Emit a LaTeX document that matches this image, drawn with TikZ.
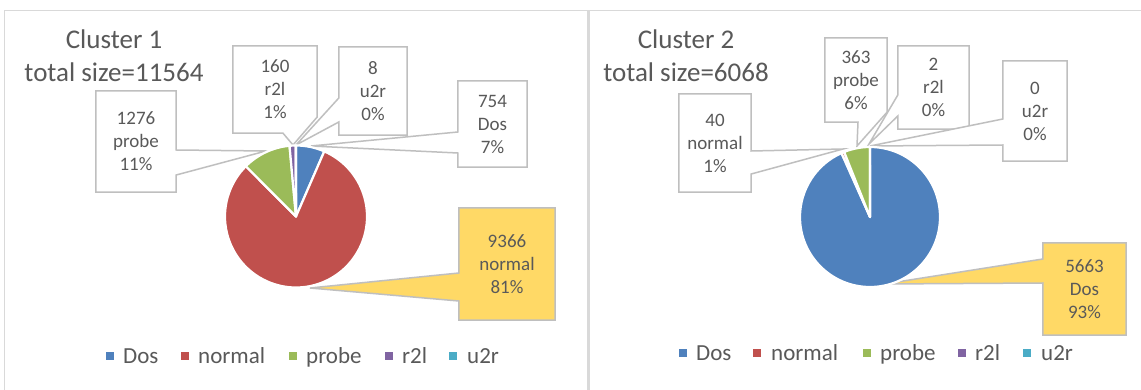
\documentclass[tikz,border=0pt]{standalone}
\usepackage{fontspec}
\setmainfont{Carlito}
\usetikzlibrary{calc,backgrounds}
\definecolor{cdos}{HTML}{4F81BD}
\definecolor{cnor}{HTML}{C0504D}
\definecolor{cpro}{HTML}{9BBB59}
\definecolor{cr2l}{HTML}{8064A2}
\definecolor{cu2r}{HTML}{4BACC6}
\definecolor{txt}{HTML}{595959}
\definecolor{bord}{HTML}{BFBFBF}
\definecolor{frm}{HTML}{D9D9D9}
\definecolor{gold}{HTML}{FFD966}
\tikzset{
  slice/.style={draw=white, line width=2.2pt, line join=round},
  lbl/.style={font=\fontsize{19}{23}\selectfont, text=txt, align=center, inner sep=0pt},
  box/.style={draw=bord, line width=1.5pt, fill=white, line join=miter},
  goldbox/.style={box, fill=gold},
  ttl/.style={font=\fontsize{27}{33}\selectfont, text=txt, align=center, inner sep=0pt},
  lsq/.style={minimum size=8pt, inner sep=0pt},
  ltxt/.style={font=\fontsize{23}{27}\selectfont, text=txt, anchor=base west, inner sep=0pt},
  frame/.style={draw=frm, line width=1.5pt}
}
\begin{document}
\begin{tikzpicture}[x=1pt, y=-1pt]
\useasboundingbox (0,0) rectangle (1141,390);
% frame
\draw[frame] (4.7,390) -- (4.7,10.7) -- (1141,10.7);
\draw[frame, line width=3pt] (588,10.7) -- (588,390);

% ---------- Chart 1 ----------
\node[ttl] (t1) at (114,55.5) {Cluster 1\\total size=11564};
\coordinate (c1) at (296,216.5);
\filldraw[slice, fill=cdos] (c1) -- ++(90:71pt) arc[start angle=90, end angle=66.53, radius=71pt] -- cycle;
\filldraw[slice, fill=cnor] (c1) -- ++(66.53:71pt) arc[start angle=66.53, end angle=-225.04, radius=71pt] -- cycle;
\filldraw[slice, fill=cpro] (c1) -- ++(-225.04:71pt) arc[start angle=-225.04, end angle=-264.77, radius=71pt] -- cycle;
\filldraw[slice, fill=cr2l] (c1) -- ++(-264.77:71pt) arc[start angle=-264.77, end angle=-269.75, radius=71pt] -- cycle;
\filldraw[slice, fill=cu2r] (c1) -- ++(-269.75:71pt) arc[start angle=-269.75, end angle=-270, radius=71pt] -- cycle;

\node[lbl, minimum width=80pt, minimum height=101pt] (p1) at (136,141.5) {1276\\probe\\11\%};
\node[lbl, minimum width=84pt, minimum height=87pt] (r1) at (275,89.5) {160\\r2l\\1\%};
\node[lbl, minimum width=68pt, minimum height=88pt] (u1) at (373,91) {8\\u2r\\0\%};
\node[lbl, minimum width=69pt, minimum height=86pt] (d1) at (492.5,124) {754\\Dos\\7\%};
\node[lbl, minimum width=96pt, minimum height=112pt] (n1) at (507,264) {9366\\normal\\81\%};
\coordinate (tp1) at (266,151);
\coordinate (tr1) at (293,145);
\coordinate (tu1) at (296,145);
\coordinate (td1) at (311,146);
\coordinate (tn1) at (310,288);

% ---------- Chart 2 ----------
\node[ttl] (t2) at (686,55.5) {Cluster 2\\total size=6068};
\coordinate (c2) at (870,217);
\filldraw[slice, fill=cdos] (c2) -- ++(90:70pt) arc[start angle=90, end angle=-245.97, radius=70pt] -- cycle;
\filldraw[slice, fill=cnor] (c2) -- ++(-245.97:70pt) arc[start angle=-245.97, end angle=-248.34, radius=70pt] -- cycle;
\filldraw[slice, fill=cpro] (c2) -- ++(-248.34:70pt) arc[start angle=-248.34, end angle=-269.88, radius=70pt] -- cycle;
\filldraw[slice, fill=cr2l] (c2) -- ++(-269.88:70pt) arc[start angle=-269.88, end angle=-270, radius=70pt] -- cycle;

\node[lbl, minimum width=72pt, minimum height=98pt] (n2) at (715,143) {40\\normal\\1\%};
\node[lbl, minimum width=62pt, minimum height=84pt] (p2) at (856,80) {363\\probe\\6\%};
\node[lbl, minimum width=71pt, minimum height=83pt] (r2) at (933.5,87.5) {2\\r2l\\0\%};
\node[lbl, minimum width=64pt, minimum height=100pt] (u2) at (1035,111) {0\\u2r\\0\%};
\node[lbl, minimum width=83pt, minimum height=92pt] (d2) at (1084.5,289) {5663\\Dos\\93\%};
\coordinate (tn2) at (843,149);
\coordinate (tp2) at (857,146);
\coordinate (tr2) at (869,144);
\coordinate (tu2) at (870,146);
\coordinate (td2) at (884,284);

% ---------- callout outlines ----------
\begin{pgfonlayer}{background}
\fill[white] (0,0) rectangle (1141,390);
\draw[box] (p1.north west) -- (p1.north east) -- (p1.east |- 0,150) -- (tp1) -- (p1.east |- 0,175) -- (p1.south east) -- (p1.south west) -- cycle;
\draw[box] (r1.north west) -- (r1.north east) -- (r1.east |- 0,117) -- (tr1) -- (283,0 |- r1.south) -- (r1.south west) -- cycle;
\draw[box] (u1.north west) -- (u1.north east) -- (u1.south east) -- (u1.south west) -- (u1.west |- 0,122) -- (tu1) -- (u1.west |- 0,98) -- cycle;
\draw[box] (d1.north west) -- (d1.north east) -- (d1.south east) -- (d1.south west) -- (d1.west |- 0,153) -- (td1) -- (d1.west |- 0,132) -- cycle;
\draw[goldbox] (n1.north west) -- (n1.north east) -- (n1.south east) -- (n1.south west) -- (n1.west |- 0,301) -- (tn1) -- (n1.west |- 0,273) -- cycle;

\draw[box] (n2.north west) -- (n2.north east) -- (n2.east |- 0,151) -- (tn2) -- (n2.east |- 0,174) -- (n2.south east) -- (n2.south west) -- cycle;
\draw[box] (p2.north west) -- (p2.north east) -- (p2.east |- 0,112) -- (tp2) -- (858,0 |- p2.south) -- (p2.south west) -- cycle;
\draw[box] (r2.north west) -- (r2.north east) -- (r2.south east) -- (r2.south west) -- (r2.west |- 0,116) -- (tr2) -- (r2.west |- 0,95) -- cycle;
\draw[box] (u2.north west) -- (u2.north east) -- (u2.south east) -- (u2.south west) -- (u2.west |- 0,145) -- (tu2) -- (u2.west |- 0,119) -- cycle;
\draw[goldbox] (d2.north west) -- (d2.north east) -- (d2.south east) -- (d2.south west) -- (d2.west |- 0,283) -- (td2) -- (d2.west |- 0,259) -- cycle;
\end{pgfonlayer}

% ---------- legends ----------
\node[lsq, fill=cdos] (l1a) at (110,356) {};
\node[ltxt] (l1at) at (123,363) {Dos};
\node[lsq, fill=cnor] (l1b) at (185,356) {};
\node[ltxt] (l1bt) at (198,363) {normal};
\node[lsq, fill=cpro] (l1c) at (293,356) {};
\node[ltxt] (l1ct) at (306,363) {probe};
\node[lsq, fill=cr2l] (l1d) at (389,356) {};
\node[ltxt] (l1dt) at (402,363) {r2l};
\node[lsq, fill=cu2r] (l1e) at (453,356) {};
\node[ltxt] (l1et) at (467,363) {u2r};

\node[lsq, fill=cdos] (l2a) at (683,353) {};
\node[ltxt] (l2at) at (696,360) {Dos};
\node[lsq, fill=cnor] (l2b) at (757,353) {};
\node[ltxt] (l2bt) at (771,360) {normal};
\node[lsq, fill=cpro] (l2c) at (867,353) {};
\node[ltxt] (l2ct) at (880,360) {probe};
\node[lsq, fill=cr2l] (l2d) at (962,353) {};
\node[ltxt] (l2dt) at (975,360) {r2l};
\node[lsq, fill=cu2r] (l2e) at (1027,353) {};
\node[ltxt] (l2et) at (1041,360) {u2r};
\end{tikzpicture}
\end{document}
